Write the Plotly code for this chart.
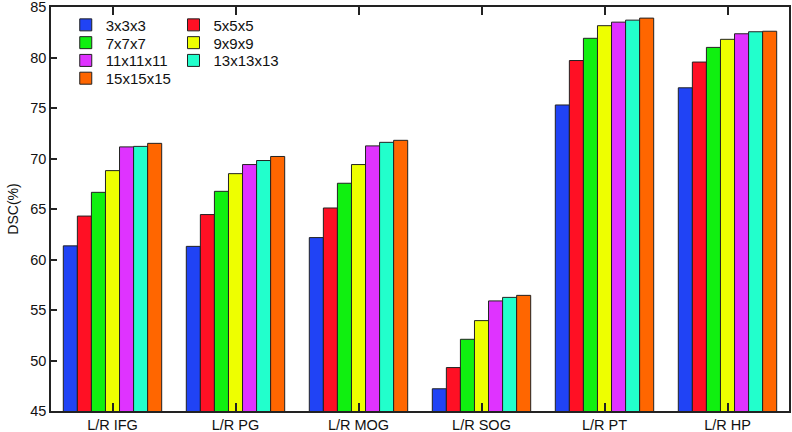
import plotly.graph_objects as go

categories = ["L/R IFG", "L/R PG", "L/R MOG", "L/R SOG", "L/R PT", "L/R HP"]
series_names = ["3x3x3", "5x5x5", "7x7x7", "9x9x9", "11x11x11", "13x13x13", "15x15x15"]
v_3 = [61.35, 61.3, 62.17, 47.2, 75.3, 77.0]
v_5 = [64.3, 64.45, 65.1, 49.3, 79.7, 79.55]
v_7 = [66.65, 66.75, 67.55, 52.1, 81.9, 81.0]
v_9 = [68.8, 68.5, 69.4, 53.95, 83.15, 81.8]
v_11 = [71.15, 69.4, 71.25, 55.9, 83.5, 82.35]
v_13 = [71.2, 69.8, 71.6, 56.25, 83.7, 82.55]
v_15 = [71.5, 70.2, 71.8, 56.45, 83.9, 82.6]
values = [v_3, v_5, v_7, v_9, v_11, v_13, v_15]
colors = ["#2043F5", "#FF1024", "#10F010", "#EEFF00", "#DF33FF", "#22FFCC", "#FF6600"]
y_ticks = [45, 50, 55, 60, 65, 70, 75, 80, 85]

# legend grid: column / row of each series' entry
legend_col = [0, 1, 0, 1, 0, 1, 0]
legend_row = [0, 0, 1, 1, 2, 2, 3]
col_x = [0.02, 0.166]
row_y = [0.996, 0.952, 0.908, 0.864]

fig = go.Figure()
font_family = "Liberation Sans, Arial, sans-serif"
layout_legends = {}
for i, (name, vals, col) in enumerate(zip(series_names, values, colors)):
    key = "legend" if i == 0 else f"legend{i + 1}"
    fig.add_trace(go.Bar(
        x=categories, y=vals, name=name, legend=key, showlegend=True,
        marker=dict(color=col, line=dict(color="#222222", width=1)),
    ))
    layout_legends[key] = dict(
        orientation="v", bgcolor="rgba(0,0,0,0)", borderwidth=0,
        font=dict(family=font_family, size=15, color="#111111"),
        itemwidth=30, xanchor="left", yanchor="top",
        x=col_x[legend_col[i]], y=row_y[legend_row[i]],
    )

fig.update_layout(
    width=792, height=432, showlegend=True,
    margin=dict(l=51, r=3, t=7, b=21, autoexpand=False),
    paper_bgcolor="white", plot_bgcolor="white",
    barmode="group", bargap=0.2, bargroupgap=0,
    font=dict(family=font_family, size=15, color="#111111"),
    xaxis=dict(
        showline=True, linecolor="#222222", linewidth=1.5, mirror="ticks",
        ticks="inside", ticklen=8, tickcolor="#222222", tickwidth=1.5,
        tickfont=dict(size=14.5), automargin=False, showgrid=False,
        ticklabeloverflow="allow", ticklabelstandoff=0,
    ),
    yaxis=dict(
        range=[45, 85], tickvals=y_ticks, showline=True, linecolor="#222222",
        linewidth=1.5, mirror=True, ticks="inside", ticklen=6, tickcolor="#222222",
        tickwidth=1.5, tickfont=dict(size=14.5), showgrid=False, zeroline=False,
        ticklabeloverflow="allow",
        title=dict(text="DSC(%)", font=dict(size=14), standoff=8), automargin=False,
    ),
    **layout_legends,
)
fig.write_html(
    "out.html",
    config={"displayModeBar": False},
    post_script="document.body.style.margin='0';document.body.style.overflow='hidden';",
)
